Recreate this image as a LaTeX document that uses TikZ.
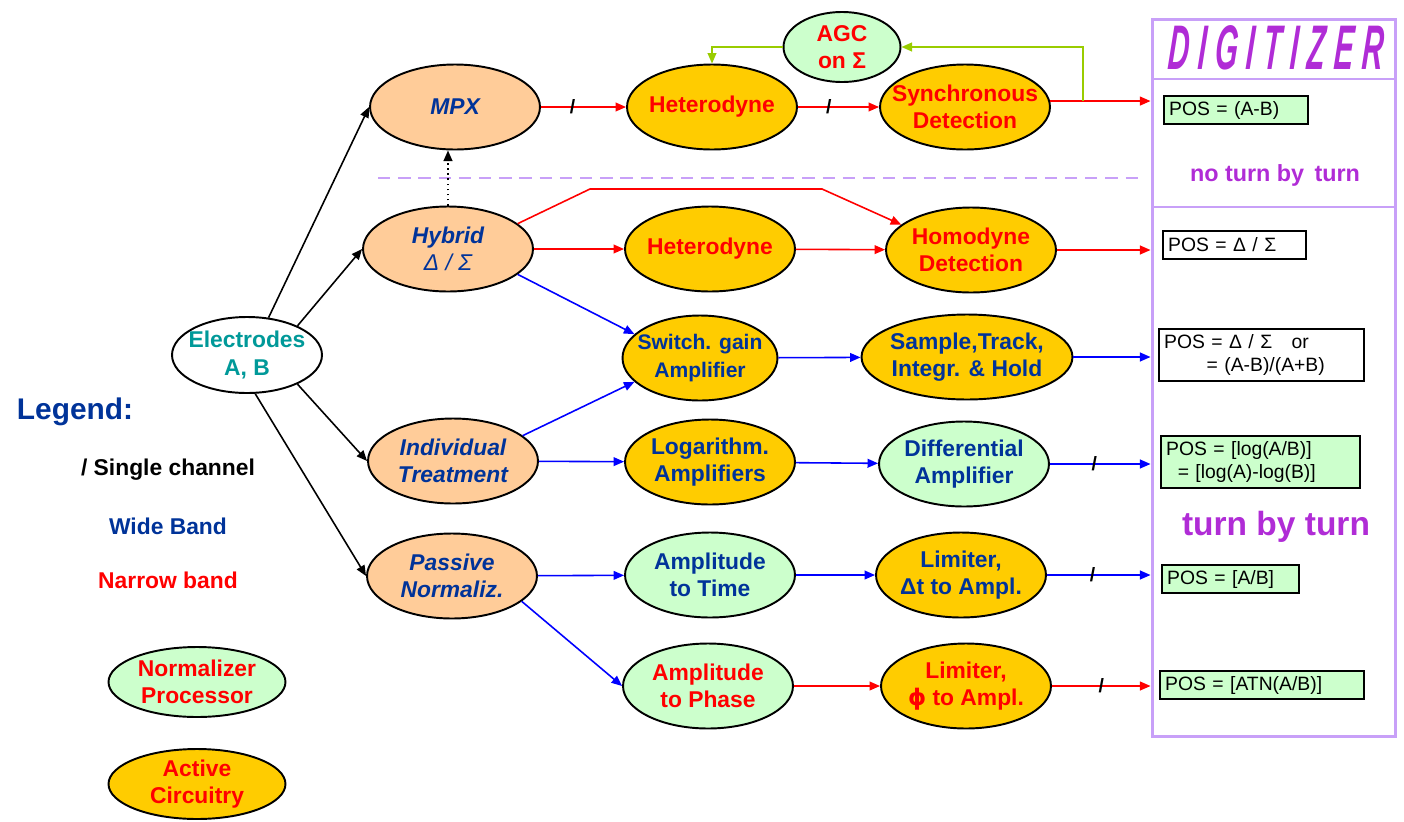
\documentclass[tikz,border=0pt]{standalone}
\usepackage{fontspec}
\setmainfont{Liberation Sans}
\newfontfamily\dejavu{DejaVu Sans}
\usepackage{graphicx}
\usetikzlibrary{shapes.geometric,arrows.meta}
\definecolor{peachcol}{HTML}{FFCC99}
\definecolor{goldcol}{HTML}{FFCC00}
\definecolor{mintcol}{HTML}{CCFFCC}
\definecolor{navycol}{HTML}{003399}
\definecolor{redcol}{HTML}{FF0000}
\definecolor{bluecol}{HTML}{0000FF}
\definecolor{tealcol}{HTML}{009999}
\definecolor{lavcol}{HTML}{C8A0F8}
\definecolor{agccol}{HTML}{99CC00}
\definecolor{digicol}{HTML}{B02CD6}

\begin{document}
\begin{tikzpicture}[x=0.02cm,y=-0.02cm,
	blob/.style={ellipse,draw=black,line width=1.1pt,minimum width=3.4cm,minimum height=1.7cm,
		inner xsep=-0.5cm,inner ysep=-0.2cm,align=center,font=\fontsize{13}{15.5}\selectfont\bfseries},
	peach/.style={blob,fill=peachcol,text=navycol,font=\fontsize{13}{15.5}\selectfont\bfseries\itshape},
	gold/.style={blob,fill=goldcol},
	mint/.style={blob,fill=mintcol},
	posbox/.style={draw=black,line width=1pt,anchor=west,align=left,inner xsep=3pt,inner ysep=0pt,
		minimum height=0.56cm,font=\fontsize{11}{13}\selectfont},
	legtext/.style={font=\fontsize{13}{15}\selectfont\bfseries},
	wire/.style={line width=0.9pt,-{Triangle[length=6pt,width=5pt]}},
	redwire/.style={wire,draw=redcol},
	bluewire/.style={wire,draw=bluecol},
	blackwire/.style={wire,draw=black},
	chanmark/.style={font=\fontsize{11}{11}\selectfont\bfseries,text=black,inner sep=0pt}
]
\useasboundingbox (0,0) rectangle (1404,822);

% digitizer frame
\node[draw=lavcol,line width=1.7pt,minimum width=4.88cm,minimum height=14.36cm,inner sep=0pt] (digi) at (1274,378) {};
\draw[lavcol,line width=1.7pt] (1152,79) -- (1396,79);
\draw[lavcol,line width=1.7pt] (1152,207) -- (1396,207);
\draw[lavcol,line width=1.4pt,dash pattern=on 7pt off 4.5pt] (378,178) -- (1143,178);
\node[text=digicol] (digititle) at (1275,48) {\resizebox{4.3cm}{0.88cm}{\bfseries\itshape\addfontfeatures{LetterSpace=30,FakeSlant=0.15}DIGITIZER}};
\node[text=digicol] (noturn) at (1275,175) {\resizebox{3.4cm}{!}{\bfseries no turn by\, turn}};
\node[text=digicol] (tbt) at (1276,527) {\resizebox{3.76cm}{!}{\bfseries turn by turn}};

% results
\node[posbox,fill=mintcol,text width=2.67cm] (pos1) at (1163,110) {POS = (A-B)};
\node[posbox,fill=white,text width=2.65cm] (pos2) at (1162,245) {POS = Δ / Σ};
\node[posbox,fill=white,text width=3.89cm,minimum height=1.04cm] (pos3) at (1158,355) {POS = Δ / Σ\quad or\\\hspace*{2.2em}= (A-B)/(A+B)};
\node[posbox,fill=mintcol,text width=3.77cm,minimum height=1.04cm] (pos4) at (1160,462) {POS = [log(A/B)]\\\hspace*{0.6em}= [log(A)-log(B)]};
\node[posbox,fill=mintcol,text width=2.53cm] (pos5) at (1161,579) {POS = [A/B]};
\node[posbox,fill=mintcol,text width=3.87cm] (pos6) at (1159,685) {POS = [ATN(A/B)]};

% processing chain
\node[blob,fill=white,text=tealcol,minimum width=3cm,minimum height=1.52cm] (elec) at (247,355) {Electrodes\\A, B};
\node[peach] (mpx) at (455,107) {MPX};
\node[peach] (hyb) at (448,249) {Hybrid\\{\mdseries Δ / Σ}};
\node[peach] (ind) at (453,461) {Individual\\Treatment};
\node[peach] (pas) at (452,576) {Passive\\Normaliz.};
\node[gold,text=redcol] (het1) at (712,107) {Heterodyne};
\node[mint,text=redcol,minimum width=2.34cm,minimum height=1.4cm] (agc) at (842,47) {AGC\\on Σ};
\node[gold,text=redcol] (syn) at (965,107) {Synchronous\\Detection};
\node[gold,text=redcol] (het2) at (710,249) {Heterodyne};
\node[gold,text=redcol] (hom) at (971,250) {Homodyne\\Detection};
\node[gold,text=navycol,minimum width=3.1cm,font=\fontsize{12}{15.5}\selectfont\bfseries] (swg) at (700,358) {Switch. gain\\Amplifier};
\node[gold,text=navycol,minimum width=4.22cm] (sth) at (967,357) {Sample,Track,\\Integr. \& Hold};
\node[gold,text=navycol] (logamp) at (710,462) {Logarithm.\\Amplifiers};
\node[mint,text=navycol] (dif) at (964,464) {Differential\\Amplifier};
\node[mint,text=navycol] (a2t) at (710,575) {Amplitude\\to Time};
\node[gold,text=navycol] (lim1) at (961,575) {Limiter,\\Δt to Ampl.};
\node[mint,text=redcol] (a2p) at (708,686) {Amplitude\\to Phase};
\node[gold,text=redcol] (lim2) at (966,686) {Limiter,\\{\dejavu ϕ} to Ampl.};

% legend
\node[font=\fontsize{17}{20}\selectfont\bfseries,text=navycol] (legend) at (75,412) {Legend:};
\foreach \txt/\col/\y [count=\i] in {{/ Single channel}/black/470,{Wide Band}/navycol/526,{Narrow band}/redcol/580}
	\node[legtext,text=\col] (leg\i) at (168,\y) {\txt};
\node[mint,text=redcol,minimum width=3.54cm,minimum height=1.4cm] (legnorm) at (197,682) {Normalizer\\Processor};
\node[gold,text=redcol,minimum width=3.54cm,minimum height=1.4cm] (legact) at (197,784) {Active\\Circuitry};

% connectors
\draw[blackwire] (elec.60) -- (mpx.west);
\draw[blackwire] (elec.30) -- (hyb.west);
\draw[blackwire] (elec.-30) -- (ind.west);
\draw[blackwire] (elec.-78) -- (pas.west);
\draw[line width=0.9pt,dotted,-{Triangle[length=6pt,width=5pt]}] (hyb.north) -- (hyb.north |- mpx.south);
\draw[redwire] (mpx) -- node[chanmark,pos=.37] (sl1) {/} (het1);
\draw[redwire] (het1) -- node[chanmark,pos=.38] (sl2) {/} (syn);
\draw[redwire] (syn.4) -- (syn.4 -| digi.west);
\coordinate (agctap) at (1083,101);
\draw[draw=agccol,line width=0.9pt,-{Triangle[length=6pt,width=5pt]}] (agctap) |- (agc.east);
\draw[draw=agccol,line width=0.9pt,-{Triangle[length=6pt,width=5pt]}] (agc.west) -| (het1.north);
\draw[redwire] (hyb) -- (het2);
\coordinate (bendA) at (590,189);
\coordinate (bendB) at (822,189);
\draw[redwire] (hyb.20) -- (bendA) -- (bendB) -- (hom.160);
\draw[redwire] (het2) -- (hom);
\draw[redwire] (hom.east) -- (hom.east -| digi.west);
\draw[bluewire] (hyb.-20) -- (swg.160);
\draw[bluewire] (ind.20) -- (swg.200);
\draw[bluewire] (ind) -- (logamp);
\draw[bluewire] (swg) -- (sth);
\draw[bluewire] (sth.east) -- (sth.east -| digi.west);
\draw[bluewire] (logamp) -- (dif);
\draw[bluewire] (dif.east) -- node[chanmark,pos=.44] (sl3) {/} (dif.east -| digi.west);
\draw[bluewire] (pas) -- (a2t);
\draw[bluewire] (pas.-20) -- (a2p.west);
\draw[bluewire] (a2t) -- (lim1);
\draw[bluewire] (lim1.east) -- node[chanmark,pos=.44] (sl4) {/} (lim1.east -| digi.west);
\draw[redwire] (a2p) -- (lim2);
\draw[redwire] (lim2.east) -- node[chanmark,pos=.5] (sl5) {/} (lim2.east -| digi.west);
\end{tikzpicture}
\end{document}
